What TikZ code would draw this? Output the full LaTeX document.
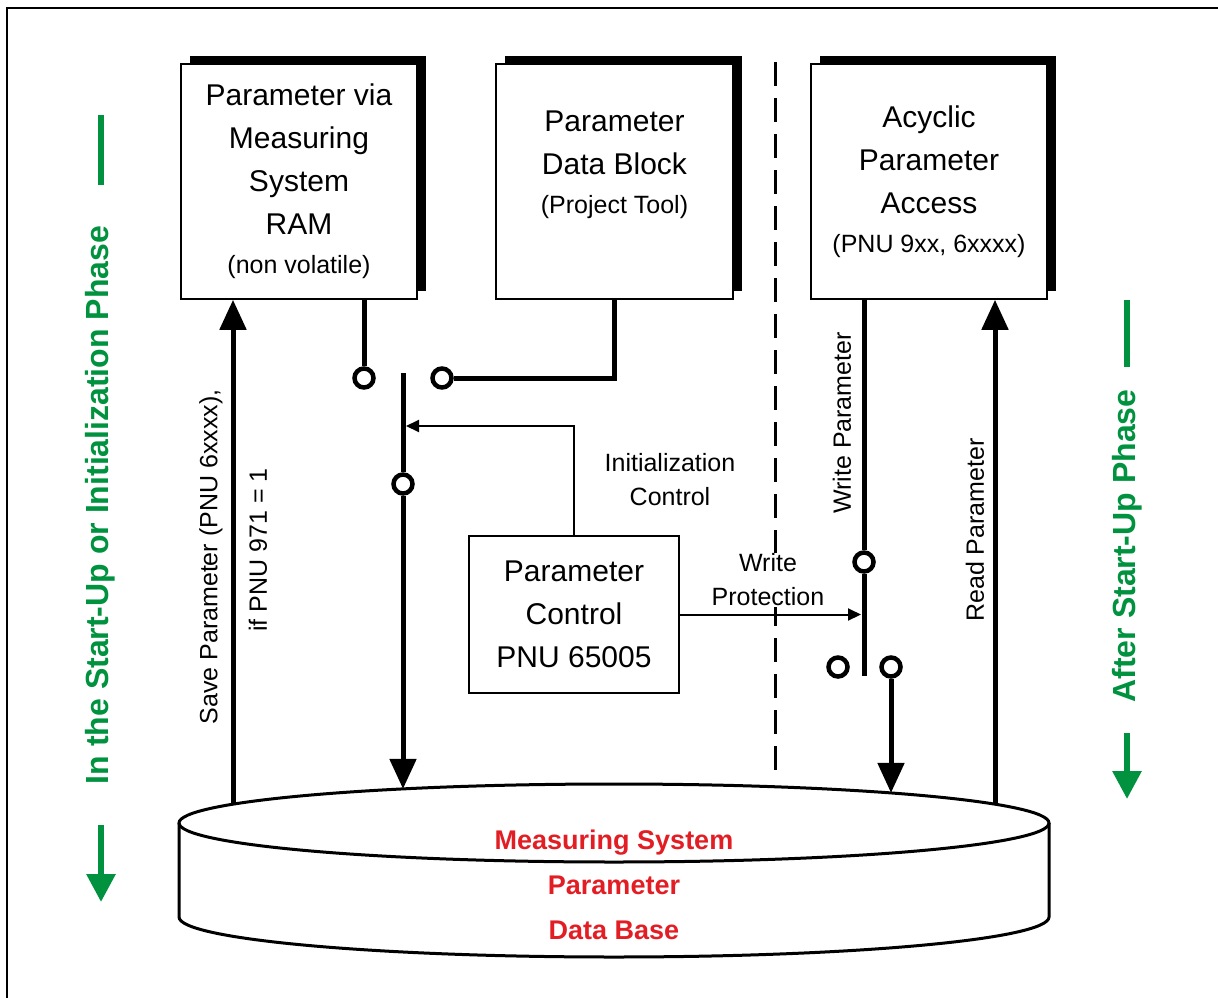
\documentclass[tikz,border=0pt]{standalone}
\usepackage{fontspec}
\setmainfont{Liberation Sans}
\usepackage{tikz}
\usetikzlibrary{shapes,shadows,arrows.meta,calc}
\definecolor{phase}{RGB}{0,146,63}
\definecolor{dbred}{RGB}{226,30,36}
\tikzset{
  bloc/.style={draw, line width=1.6pt, fill=white, inner sep=2pt, align=center,
    font=\fontsize{30}{43}\selectfont},
  ombre/.style={drop shadow={shadow xshift=9pt, shadow yshift=8pt, fill=black, opacity=1}},
  wire/.style={line width=5pt},
  bigarrow/.style={line width=5pt, -{Triangle[length=30pt,width=26pt]}},
  thinarrow/.style={line width=2pt, -{Triangle[length=13pt,width=12pt]}},
  contact/.style={circle, draw, line width=4.5pt, fill=white, minimum size=19pt, inner sep=0pt},
  lbl/.style={font=\fontsize{25}{34}\selectfont, align=center},
  phasetxt/.style={text=phase, font=\bfseries\fontsize{32}{38}\selectfont, rotate=90},
  phaseline/.style={draw=phase, line width=6pt},
  phasearrow/.style={draw=phase, fill=phase, line width=6pt, -{Triangle[length=28pt,width=28pt]}}
}
\newcommand{\petit}{\fontsize{25}{30}\selectfont}

\begin{document}
\begin{tikzpicture}[x=1pt,y=-1pt]
\useasboundingbox (0,0) rectangle (1218,998);
  % cadre
\draw[line width=1.5pt] (7,998) -- (7,8) -- (1218,8);

  % blocs
\node[bloc, ombre, minimum width=236, minimum height=235] (ram) at (299,181.5)
  {Parameter via\\Measuring\\System\\RAM\\[-4pt]{\petit (non volatile)}};
\node[bloc, ombre, minimum width=237, minimum height=235,
  label={[lbl, font=\fontsize{30}{43}\selectfont, yshift=17pt]center:Parameter\\Data Block\\[-4pt]{\petit (Project Tool)}}]
  (pdb) at (614.5,181.5) {};
\node[bloc, ombre, minimum width=236, minimum height=235] (apa) at (929,181.5)
  {Acyclic\\Parameter\\Access\\[-4pt]{\petit (PNU 9xx, 6xxxx)}};
\node[bloc, minimum width=210, minimum height=157] (pctrl) at (574,614.5)
  {Parameter\\Control\\PNU 65005};

  % base de donnees
\node[ellipse, draw, line width=3pt, fill=white, minimum width=870, minimum height=78,
  inner sep=0pt, outer sep=0pt] (dbtop) at (614,823) {};
\draw[line width=3pt] (dbtop.west) -- ++(0,94) arc[start angle=180, end angle=0, x radius=435, y radius=40]
  -- (dbtop.east);
\node[text=dbred, font=\bfseries\fontsize{27}{45}\selectfont, align=center] (dbtxt) at (614,885)
  {Measuring System\\Parameter\\Data Base};
\coordinate (dbsave) at ($(dbtop.center)+(-381,-18.7)$);
\coordinate (dbinit) at ($(dbtop.center)+(-211,-34.1)$);
\coordinate (dbwrite) at ($(dbtop.center)+(277,-30.1)$);
\coordinate (dbread) at ($(dbtop.center)+(381,-18.7)$);

  % separation
\draw[line width=3pt, dash pattern=on 24pt off 12pt] (775,62) -- (775,772);

  % commutateur gauche
\node[contact] (c1) at (364,378) {};
\node[contact] (c2) at (442,378) {};
\node[contact] (c3) at (403,484) {};
\coordinate (lvtop) at (403,373);
\coordinate (lvin) at (406,426);
\draw[wire] (c1) -- (c1 |- ram.south);
\draw[wire] (c2) -| (pdb.south);
\draw[wire] (lvtop) -- (c3);
\draw[bigarrow] (c3) -- (c3 |- dbinit);
\draw[bigarrow] (dbsave) -- (dbsave |- ram.south);
\draw[thinarrow] (pctrl.north) |- (lvin);
\node[lbl] (initlbl) at (670,480) {Initialization\\Control};

  % commutateur droit
\node[contact] (c4) at (864,562) {};
\node[contact] (c5) at (838,667) {};
\node[contact] (c6) at (891,667) {};
\coordinate (wlvbot) at (864,676);
\coordinate (wpin) at (861,614.5);
\draw[wire] (apa.south -| c4) -- (c4);
\draw[wire] (c4) -- (wlvbot);
\draw[bigarrow] (c6) -- (c6 |- dbwrite);
\draw[bigarrow] (dbread) -- (dbread |- apa.south);
\node[lbl, fill=white, inner sep=1pt] (wplbl) at (768,580) {Write\\Protection};
\draw[thinarrow] (pctrl.east) -- (wpin);

  % textes verticaux
\node[lbl, rotate=90] (savelbl) at (211,557) {Save Parameter (PNU 6xxxx),};
\node[lbl, rotate=90] (iflbl) at (258,550) {if PNU 971 = 1};
\node[lbl, rotate=90] (wrlbl) at (842,423) {Write Parameter};
\node[lbl, rotate=90] (rdlbl) at (975,530) {Read Parameter};

  % phases
\node[phasetxt] (initphase) at (100,505) {In the Start-Up or Initialization Phase};
\coordinate (ip1) at (101,115);
\coordinate (ip2) at (101,185);
\coordinate (ip3) at (101,825);
\coordinate (ip4) at (101,902);
\draw[phaseline] (ip1) -- (ip2);
\draw[phasearrow] (ip3) -- (ip4);
\node[phasetxt] (afterphase) at (1127,546) {After Start-Up Phase};
\coordinate (ap1) at (1127,300);
\coordinate (ap2) at (1127,367);
\coordinate (ap3) at (1127,733);
\coordinate (ap4) at (1127,799);
\draw[phaseline] (ap1) -- (ap2);
\draw[phasearrow] (ap3) -- (ap4);
\end{tikzpicture}
\end{document}
